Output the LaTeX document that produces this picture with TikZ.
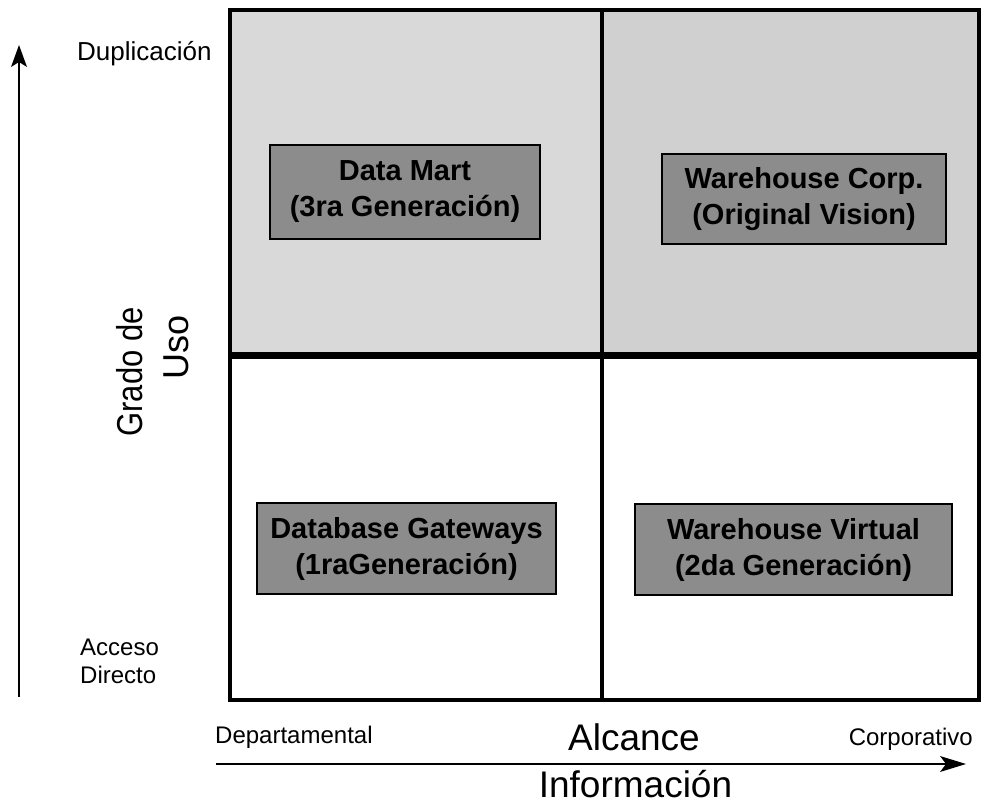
\documentclass[tikz,border=0pt]{standalone}
\usepackage{fontspec}
\usepackage{graphicx}
\setmainfont{Liberation Sans}
\definecolor{topL}{RGB}{217,217,217}
\definecolor{topR}{RGB}{208,208,208}
\definecolor{boxfill}{RGB}{140,140,140}
\begin{document}
\begin{tikzpicture}[x=1pt,y=-1pt,
  cell/.style={draw=black, line width=1.6pt, fill=boxfill, align=center,
    font=\fontsize{29}{36}\selectfont\bfseries, inner sep=0pt},
  lbl/.style={font=\fontsize{24}{28}\selectfont, inner sep=0pt},
  big/.style={font=\fontsize{37}{44}\selectfont, inner sep=0pt},
  axisline/.style={line width=2pt},
  headfill/.style={fill=black}
]
\useasboundingbox (0,0) rectangle (982,803);
\fill[white] (0,0) rectangle (982,803);
% quadrants
\fill[topL] (230,10) rectangle (602,355);
\fill[topR] (602,10) rectangle (979,355);
\draw[line width=3.5pt] (602,10) -- (602,700);
\draw[line width=7pt] (230,355) -- (979,355);
\draw[line width=4pt] (230,10) rectangle (979,700);
% boxes
\node[cell, minimum width=270pt, minimum height=94pt] (dm) at (405,192) {Data Mart\\(3ra Generación)};
\node[cell, minimum width=284pt, minimum height=90pt] (wc) at (804,199) {Warehouse Corp.\\(Original Vision)};
\node[cell, minimum width=299pt, minimum height=91pt] (dg) at (406.5,548.5) {Database Gateways\\(1raGeneración)};
\node[cell, minimum width=317pt, minimum height=91pt] (wv) at (793.5,549.5) {Warehouse Virtual\\(2da Generación)};
% vertical axis labels
\node[lbl, font=\fontsize{26}{30}\selectfont, anchor=base west] (dup) at (77,60) {Duplicación};
\node[lbl, align=left, anchor=west] (acc) at (80,661) {Acceso\\Directo};
\node[inner sep=0pt, font=\fontsize{36}{40}\selectfont, rotate=90, anchor=base] (grado) at (142,372) {\scalebox{0.86}[1]{Grado de}};
\node[inner sep=0pt, font=\fontsize{36}{40}\selectfont, rotate=90, anchor=base] (uso) at (188,347) {Uso};
% horizontal axis labels
\node[lbl, anchor=base west] (dep) at (215,743) {Departamental};
\node[lbl, anchor=base east] (corp) at (973,745) {Corporativo};
\node[big, anchor=base] (alc) at (634,750) {Alcance};
\node[big, anchor=base] (inf) at (635.5,797) {Información};
% axes
\coordinate (vs) at (19,697);
\coordinate (ve) at (19,45);
\coordinate (vb) at (19,60);
\draw[axisline] (vs) -- (vb);
\fill[headfill] (ve) -- ++(-8,22) -- ++(8,-5) -- ++(8,5) -- cycle;
\coordinate (hs) at (216,764);
\coordinate (he) at (966,764);
\coordinate (hb) at (950,764);
\draw[axisline] (hs) -- (hb);
\fill[headfill] (he) -- ++(-26,-8) -- ++(6,8) -- ++(-6,8) -- cycle;
\end{tikzpicture}
\end{document}
